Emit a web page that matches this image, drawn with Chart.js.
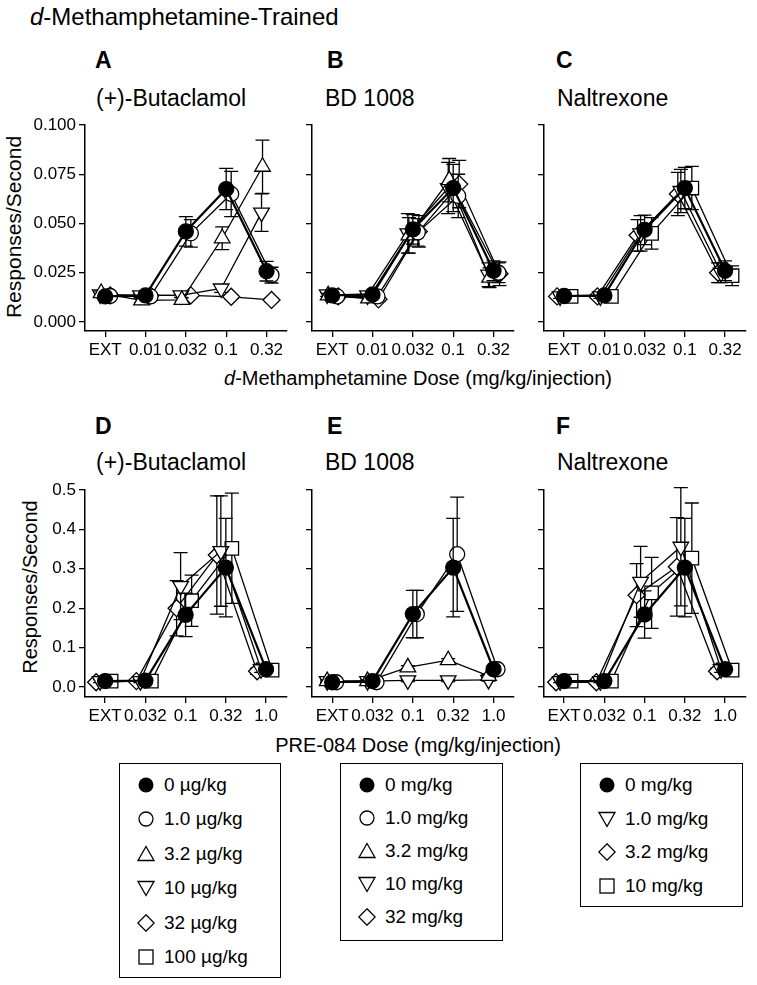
<!DOCTYPE html>
<html>
<head>
<meta charset="utf-8">
<script src="https://cdn.jsdelivr.net/npm/chart.js@4.4.0/dist/chart.umd.min.js"></script>
<style>
  body { margin: 0; background: #fff; font-family: "Liberation Sans", Arial, sans-serif; color: #000; }
  #wrap { position: relative; width: 757px; height: 985px; overflow: hidden; }
  .txt { position: absolute; white-space: nowrap; line-height: 1; transform: translateY(-50%); }
  .ctr { transform: translate(-50%, -50%); }
  .rot { transform: translate(-50%, -50%) rotate(-90deg); }
  canvas { position: absolute; }
  .legend { position: absolute; border: 1.5px solid #000; box-sizing: border-box; background: #fff; }
  .row { position: absolute; left: 0; display: flex; align-items: center; font-size: 19px; transform: translateY(-50%); }
  .row svg { margin-right: 9px; }
</style>
</head>
<body>
<div id="wrap">
  <div class="txt" style="left:30px;top:17px;font-size:24px"><i>d</i>-Methamphetamine-Trained</div>

  <div class="txt" style="left:95px;top:60px;font-size:23px;font-weight:bold">A</div>
  <div class="txt" style="left:327px;top:60px;font-size:23px;font-weight:bold">B</div>
  <div class="txt" style="left:556px;top:60px;font-size:23px;font-weight:bold">C</div>
  <div class="txt" style="left:96px;top:98px;font-size:23px">(+)-Butaclamol</div>
  <div class="txt" style="left:325px;top:98px;font-size:23px">BD 1008</div>
  <div class="txt" style="left:557px;top:98px;font-size:23px">Naltrexone</div>

  <div class="txt" style="left:95px;top:426px;font-size:23px;font-weight:bold">D</div>
  <div class="txt" style="left:327px;top:426px;font-size:23px;font-weight:bold">E</div>
  <div class="txt" style="left:556px;top:426px;font-size:23px;font-weight:bold">F</div>
  <div class="txt" style="left:96px;top:462px;font-size:23px">(+)-Butaclamol</div>
  <div class="txt" style="left:325px;top:462px;font-size:23px">BD 1008</div>
  <div class="txt" style="left:557px;top:462px;font-size:23px">Naltrexone</div>

  <div class="txt rot" style="left:13px;top:227px;font-size:21px">Responses/Second</div>
  <div class="txt rot" style="left:30px;top:587px;font-size:20px">Responses/Second</div>
  <div class="txt ctr" style="left:418px;top:378px;font-size:20px"><i>d</i>-Methamphetamine Dose (mg/kg/injection)</div>
  <div class="txt ctr" style="left:418px;top:745px;font-size:20px">PRE-084 Dose (mg/kg/injection)</div>

  <canvas id="cA" width="272" height="265" style="left:25px;top:110px"></canvas>
  <canvas id="cB" width="272" height="265" style="left:252px;top:110px"></canvas>
  <canvas id="cC" width="272" height="265" style="left:484px;top:110px"></canvas>
  <canvas id="cD" width="272" height="266" style="left:25px;top:475px"></canvas>
  <canvas id="cE" width="272" height="266" style="left:252px;top:475px"></canvas>
  <canvas id="cF" width="272" height="266" style="left:484px;top:475px"></canvas>

  <div class="legend" id="legButa" style="left:119px;top:763px;width:162px;height:215px"></div>
  <div class="legend" id="legBD" style="left:340px;top:763px;width:163px;height:178px"></div>
  <div class="legend" id="legNal" style="left:580px;top:763px;width:163px;height:144px"></div>
</div>

<script>
// x categories and y ticks
const methDoses = ['EXT', '0.01', '0.032', '0.1', '0.32'];
const preDoses = ['EXT', '0.032', '0.1', '0.32', '1.0'];
const methTicks = [0, 0.025, 0.05, 0.075, 0.1];
const methTickLabels = ['0.000', '0.025', '0.050', '0.075', '0.100'];
const preTicks = [0, 0.1, 0.2, 0.3, 0.4, 0.5];
const preTickLabels = ['0.0', '0.1', '0.2', '0.3', '0.4', '0.5'];

// legend labels
const butaLabels = ['0 µg/kg', '1.0 µg/kg', '3.2 µg/kg', '10 µg/kg', '32 µg/kg', '100 µg/kg'];
const bdLabels = ['0 mg/kg', '1.0 mg/kg', '3.2 mg/kg', '10 mg/kg', '32 mg/kg'];
const nalLabels = ['0 mg/kg', '1.0 mg/kg', '3.2 mg/kg', '10 mg/kg'];

// A: (+)-butaclamol, methamphetamine
const aDose0 = [0.0130, 0.0135, 0.0460, 0.0675, 0.0258];
const aDose0Err = [0.0010, 0.0010, 0.0075, 0.0105, 0.0050];
const aDose1 = [0.0132, 0.0130, 0.0450, 0.0650, 0.0238];
const aDose1Err = [0.0010, 0.0010, 0.0070, 0.0115, 0.0040];
const aDose3 = [0.0147, 0.0110, 0.0112, 0.0425, 0.0788];
const aDose3Err = [0.0010, 0.0010, 0.0010, 0.0058, 0.0135];
const aDose10 = [0.0140, 0.0135, 0.0135, 0.0170, 0.0555];
const aDose10Err = [0.0010, 0.0010, 0.0010, 0.0020, 0.0095];
const aDose32 = [0.0135, 0.0135, 0.0135, 0.0128, 0.0112];
const aDose32Err = [0.0010, 0.0010, 0.0010, 0.0010, 0.0010];

// B: BD 1008, methamphetamine
const bDose0 = [0.0135, 0.0140, 0.0470, 0.0680, 0.0260];
const bDose0Err = [0.0010, 0.0010, 0.0075, 0.0120, 0.0050];
const bDose1 = [0.0130, 0.0130, 0.0455, 0.0640, 0.0250];
const bDose1Err = [0.0010, 0.0010, 0.0070, 0.0110, 0.0050];
const bDose3 = [0.0135, 0.0120, 0.0440, 0.0720, 0.0225];
const bDose3Err = [0.0010, 0.0010, 0.0090, 0.0110, 0.0050];
const bDose10 = [0.0140, 0.0135, 0.0450, 0.0680, 0.0240];
const bDose10Err = [0.0010, 0.0010, 0.0100, 0.0130, 0.0060];
const bDose32 = [0.0130, 0.0115, 0.0460, 0.0700, 0.0245];
const bDose32Err = [0.0010, 0.0010, 0.0080, 0.0120, 0.0060];

// C: naltrexone, methamphetamine
const cDose0 = [0.0132, 0.0135, 0.0468, 0.0680, 0.0260];
const cDose0Err = [0.0010, 0.0010, 0.0075, 0.0105, 0.0050];
const cDose1 = [0.0130, 0.0130, 0.0450, 0.0665, 0.0250];
const cDose1Err = [0.0010, 0.0010, 0.0090, 0.0110, 0.0050];
const cDose3 = [0.0130, 0.0130, 0.0440, 0.0650, 0.0250];
const cDose3Err = [0.0010, 0.0010, 0.0080, 0.0110, 0.0050];
const cDose10 = [0.0130, 0.0130, 0.0450, 0.0680, 0.0235];
const cDose10Err = [0.0010, 0.0010, 0.0080, 0.0110, 0.0050];

// D: (+)-butaclamol, PRE-084
const dDose0 = [0.015, 0.016, 0.183, 0.303, 0.045];
const dDose0Err = [0.004, 0.004, 0.055, 0.125, 0.008];
const dDose10 = [0.015, 0.015, 0.256, 0.345, 0.045];
const dDose10Err = [0.004, 0.004, 0.085, 0.140, 0.008];
const dDose32 = [0.012, 0.015, 0.200, 0.335, 0.040];
const dDose32Err = [0.004, 0.004, 0.070, 0.150, 0.008];
const dDose100 = [0.015, 0.015, 0.219, 0.352, 0.043];
const dDose100Err = [0.004, 0.004, 0.065, 0.140, 0.008];

// E: BD 1008, PRE-084
const eDose0 = [0.012, 0.015, 0.185, 0.303, 0.045];
const eDose0Err = [0.004, 0.004, 0.060, 0.125, 0.008];
const eDose1 = [0.012, 0.012, 0.185, 0.337, 0.045];
const eDose1Err = [0.004, 0.004, 0.060, 0.145, 0.008];
const eDose3 = [0.015, 0.015, 0.050, 0.068, 0.028];
const eDose3Err = [0.003, 0.003, 0.004, 0.004, 0.004];
const eDose10 = [0.015, 0.015, 0.017, 0.017, 0.018];
const eDose10Err = [0.003, 0.003, 0.003, 0.003, 0.003];

// F: naltrexone, PRE-084
const fDose0 = [0.015, 0.015, 0.184, 0.303, 0.045];
const fDose0Err = [0.004, 0.004, 0.060, 0.125, 0.008];
const fDose1 = [0.015, 0.015, 0.267, 0.356, 0.045];
const fDose1Err = [0.004, 0.004, 0.090, 0.150, 0.008];
const fDose3 = [0.012, 0.012, 0.233, 0.305, 0.040];
const fDose3Err = [0.004, 0.004, 0.080, 0.125, 0.008];
const fDose10 = [0.015, 0.015, 0.239, 0.327, 0.043];
const fDose10Err = [0.004, 0.004, 0.090, 0.140, 0.008];

// marker looks
const markers = {
  filled: { pointStyle: 'circle', radius: 7.5, fill: '#000', rotation: 0, line: 2.2 },
  open: { pointStyle: 'circle', radius: 7.5, fill: '#fff', rotation: 0, line: 1.3 },
  up: { pointStyle: 'triangle', radius: 9, fill: '#fff', rotation: 0, line: 1.3 },
  down: { pointStyle: 'triangle', radius: 9, fill: '#fff', rotation: 180, line: 1.3 },
  diamond: { pointStyle: 'rectRot', radius: 8.5, fill: '#fff', rotation: 0, line: 1.3 },
  square: { pointStyle: 'rect', radius: 9.5, fill: '#fff', rotation: 0, line: 1.3 }
};

// error bars + small sideways nudge per series (like the original plot)
const errorBars = {
  id: 'errorBars',
  beforeDatasetDraw(chart, args) {
    const ctx = chart.ctx;
    const ds = chart.data.datasets[args.index];
    ctx.save();
    ctx.translate(ds.shift || 0, 0);
    const y = chart.scales.y;
    ctx.strokeStyle = '#000';
    ctx.lineWidth = 1.3;
    args.meta.data.forEach((pt, i) => {
      const v = ds.data[i], e = ds.err[i];
      const top = y.getPixelForValue(v + e);
      const bot = y.getPixelForValue(v - e);
      ctx.beginPath();
      ctx.moveTo(pt.x, top); ctx.lineTo(pt.x, bot);
      ctx.moveTo(pt.x - 7, top); ctx.lineTo(pt.x + 7, top);
      ctx.moveTo(pt.x - 7, bot); ctx.lineTo(pt.x + 7, bot);
      ctx.stroke();
    });
  },
  afterDatasetDraw(chart) {
    chart.ctx.restore();
  }
};

function makeDataset(name, kind, values, errs, shift) {
  const m = markers[kind];
  return {
    label: name,
    data: values,
    err: errs,
    shift: shift,
    borderColor: '#000',
    borderWidth: m.line,
    pointStyle: m.pointStyle,
    rotation: m.rotation,
    pointRadius: m.radius,
    pointHoverRadius: m.radius,
    pointBackgroundColor: m.fill,
    pointBorderColor: '#000',
    pointBorderWidth: 1.3,
    tension: 0,
    fill: false,
    clip: false
  };
}

function makeChart(id, cats, ticks, tickLabels, yMin, yMax, showLabels, datasets) {
  const font = { family: 'Liberation Sans, Arial, sans-serif', size: 17 };
  new Chart(document.getElementById(id), {
    type: 'line',
    data: { labels: cats, datasets: datasets },
    options: {
      responsive: false,
      animation: false,
      events: [],
      layout: { padding: { top: 15, right: 4, left: 0, bottom: 0 } },
      plugins: { legend: { display: false }, tooltip: { enabled: false } },
      scales: {
        x: {
          type: 'category',
          offset: true,
          grid: { drawOnChartArea: false, drawTicks: true, tickLength: 6, color: '#000', lineWidth: 1.3 },
          border: { color: '#000', width: 1.5 },
          ticks: { font: font, color: '#000', padding: 3, maxRotation: 0, autoSkip: false },
          afterFit: s => { s.height = 44; }
        },
        y: {
          min: yMin,
          max: yMax,
          afterBuildTicks: s => { s.ticks = ticks.map(v => ({ value: v })); },
          grid: { drawOnChartArea: false, drawTicks: true, tickLength: 6, color: '#000', lineWidth: 1.3 },
          border: { color: '#000', width: 1.5 },
          ticks: { font: font, color: '#000', padding: 3, callback: (v, i) => (showLabels ? tickLabels[i] : '') },
          afterFit: s => { s.width = 60; }
        }
      }
    },
    plugins: [errorBars]
  });
}

const methMin = -0.1 * 9 / 197;
const preMin = -0.5 * 10 / 197;

makeChart('cA', methDoses, methTicks, methTickLabels, methMin, 0.1, true, [
  makeDataset(butaLabels[0], 'filled', aDose0, aDose0Err, 0),
  makeDataset(butaLabels[1], 'open', aDose1, aDose1Err, 5),
  makeDataset(butaLabels[2], 'up', aDose3, aDose3Err, -4),
  makeDataset(butaLabels[3], 'down', aDose10, aDose10Err, -5),
  makeDataset(butaLabels[4], 'diamond', aDose32, aDose32Err, 5)
]);
makeChart('cB', methDoses, methTicks, methTickLabels, methMin, 0.1, false, [
  makeDataset(bdLabels[0], 'filled', bDose0, bDose0Err, 0),
  makeDataset(bdLabels[1], 'open', bDose1, bDose1Err, 5),
  makeDataset(bdLabels[2], 'up', bDose3, bDose3Err, -4),
  makeDataset(bdLabels[3], 'down', bDose10, bDose10Err, -5),
  makeDataset(bdLabels[4], 'diamond', bDose32, bDose32Err, 6)
]);
makeChart('cC', methDoses, methTicks, methTickLabels, methMin, 0.1, false, [
  makeDataset(nalLabels[0], 'filled', cDose0, cDose0Err, 0),
  makeDataset(nalLabels[1], 'down', cDose1, cDose1Err, -4),
  makeDataset(nalLabels[2], 'diamond', cDose3, cDose3Err, -7),
  makeDataset(nalLabels[3], 'square', cDose10, cDose10Err, 7)
]);
makeChart('cD', preDoses, preTicks, preTickLabels, preMin, 0.5, true, [
  makeDataset(butaLabels[0], 'filled', dDose0, dDose0Err, 0),
  makeDataset(butaLabels[3], 'down', dDose10, dDose10Err, -5),
  makeDataset(butaLabels[4], 'diamond', dDose32, dDose32Err, -9),
  makeDataset(butaLabels[5], 'square', dDose100, dDose100Err, 6)
]);
makeChart('cE', preDoses, preTicks, preTickLabels, preMin, 0.5, false, [
  makeDataset(bdLabels[0], 'filled', eDose0, eDose0Err, 0),
  makeDataset(bdLabels[1], 'open', eDose1, eDose1Err, 4),
  makeDataset(bdLabels[2], 'up', eDose3, eDose3Err, -5),
  makeDataset(bdLabels[3], 'down', eDose10, eDose10Err, -5)
]);
makeChart('cF', preDoses, preTicks, preTickLabels, preMin, 0.5, false, [
  makeDataset(nalLabels[0], 'filled', fDose0, fDose0Err, 0),
  makeDataset(nalLabels[1], 'down', fDose1, fDose1Err, -4),
  makeDataset(nalLabels[2], 'diamond', fDose3, fDose3Err, -8),
  makeDataset(nalLabels[3], 'square', fDose10, fDose10Err, 7)
]);

// legend boxes
const svgShapes = {
  filled: '<circle cx="9" cy="9" r="7.5" fill="#000"/>',
  open: '<circle cx="9" cy="9" r="7" fill="#fff" stroke="#000" stroke-width="1.3"/>',
  up: '<polygon points="9,1.5 17,15.5 1,15.5" fill="#fff" stroke="#000" stroke-width="1.3"/>',
  down: '<polygon points="1,2.5 17,2.5 9,16.5" fill="#fff" stroke="#000" stroke-width="1.3"/>',
  diamond: '<polygon points="9,0.8 17.2,9 9,17.2 0.8,9" fill="#fff" stroke="#000" stroke-width="1.3"/>',
  square: '<rect x="2" y="2" width="14" height="14" fill="#fff" stroke="#000" stroke-width="1.3"/>'
};
function fillLegend(id, labels, kinds, step) {
  const box = document.getElementById(id);
  labels.forEach((lab, i) => {
    const row = document.createElement('div');
    row.className = 'row';
    row.style.left = '17px';
    row.style.top = (21 + i * step) + 'px';
    row.innerHTML = '<svg width="18" height="18">' + svgShapes[kinds[i]] + '</svg><span>' + lab + '</span>';
    box.appendChild(row);
  });
}
fillLegend('legButa', butaLabels, ['filled', 'open', 'up', 'down', 'diamond', 'square'], 34.4);
fillLegend('legBD', bdLabels, ['filled', 'open', 'up', 'down', 'diamond'], 33);
fillLegend('legNal', nalLabels, ['filled', 'down', 'diamond', 'square'], 33.5);
</script>
</body>
</html>
